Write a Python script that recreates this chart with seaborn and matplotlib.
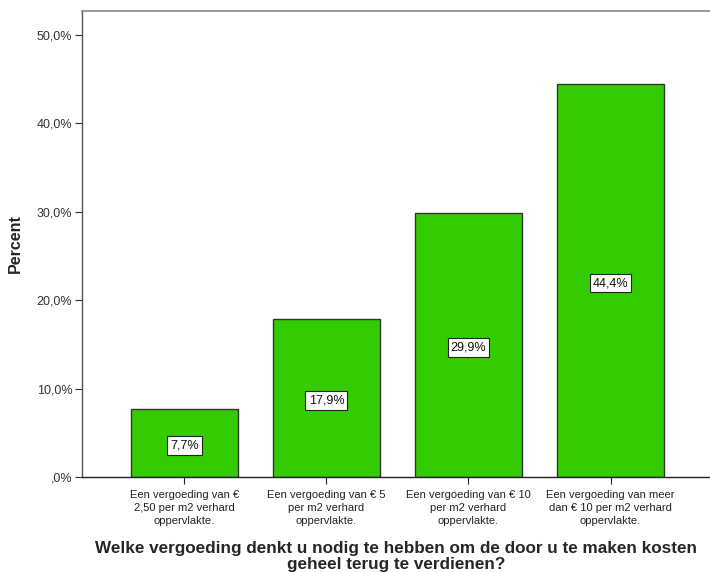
import matplotlib
matplotlib.use("Agg")
import matplotlib.pyplot as plt
import seaborn as sns
import pandas as pd

categories = [
    "Een vergoeding van €\n2,50 per m2 verhard\noppervlakte.",
    "Een vergoeding van € 5\nper m2 verhard\noppervlakte.",
    "Een vergoeding van € 10\nper m2 verhard\noppervlakte.",
    "Een vergoeding van meer\ndan € 10 per m2 verhard\noppervlakte.",
]
percent = [7.7, 17.9, 29.9, 44.4]
value_labels = ["7,7%", "17,9%", "29,9%", "44,4%"]
y_ticks = [0, 10, 20, 30, 40, 50]
y_tick_labels = [",0%", "10,0%", "20,0%", "30,0%", "40,0%", "50,0%"]

sns.set_style("white")
plt.rcParams["font.family"] = ["Liberation Sans", "DejaVu Sans"]

df = pd.DataFrame({"cat": categories, "pct": percent})

fig = plt.figure(figsize=(7.1, 5.72), dpi=100)
ax = fig.add_axes([82 / 710, 1 - 477 / 572, (710 - 82) / 710, (477 - 11) / 572])

sns.barplot(data=df, x="cat", y="pct", color="#33cc00", saturation=1,
            width=0.75, edgecolor="#333333", linewidth=1.0, ax=ax)

for i, (v, lab) in enumerate(zip(percent, value_labels)):
    ax.text(i, v / 2 - 0.3, lab, ha="center", va="center", fontsize=9,
            color="#111111",
            bbox=dict(boxstyle="square,pad=0.25", fc="white", ec="#222222", lw=0.8))

ax.set_xlim(-0.72, 3.70)
ax.set_ylim(0, 52.7)
ax.set_xticks(range(len(categories)))
ax.set_xticklabels(categories, fontsize=8, color="#222222", linespacing=1.4)
ax.set_yticks(y_ticks)
ax.set_yticklabels(y_tick_labels, fontsize=9, color="#333333")
ax.tick_params(axis="x", colors="#222222", length=5, width=0.8,
               direction="out", bottom=True, pad=4)
ax.tick_params(axis="y", length=5, width=0.8, direction="out", left=True,
               colors="#333333", pad=2)

ax.spines["right"].set_visible(False)
ax.spines["top"].set_color("#888888")
ax.spines["top"].set_linewidth(1.2)
ax.spines["left"].set_color("#555555")
ax.spines["left"].set_linewidth(1.0)
ax.spines["bottom"].set_color("#222222")
ax.spines["bottom"].set_linewidth(1.0)

ax.set_ylabel("Percent", fontsize=11.5, fontweight="bold", labelpad=10)
ax.set_xlabel("Welke vergoeding denkt u nodig te hebben om de door u te maken kosten\ngeheel terug te verdienen?",
              fontsize=12.3, fontweight="bold", labelpad=11, linespacing=1.1)

fig.savefig("out.png", dpi=100)
